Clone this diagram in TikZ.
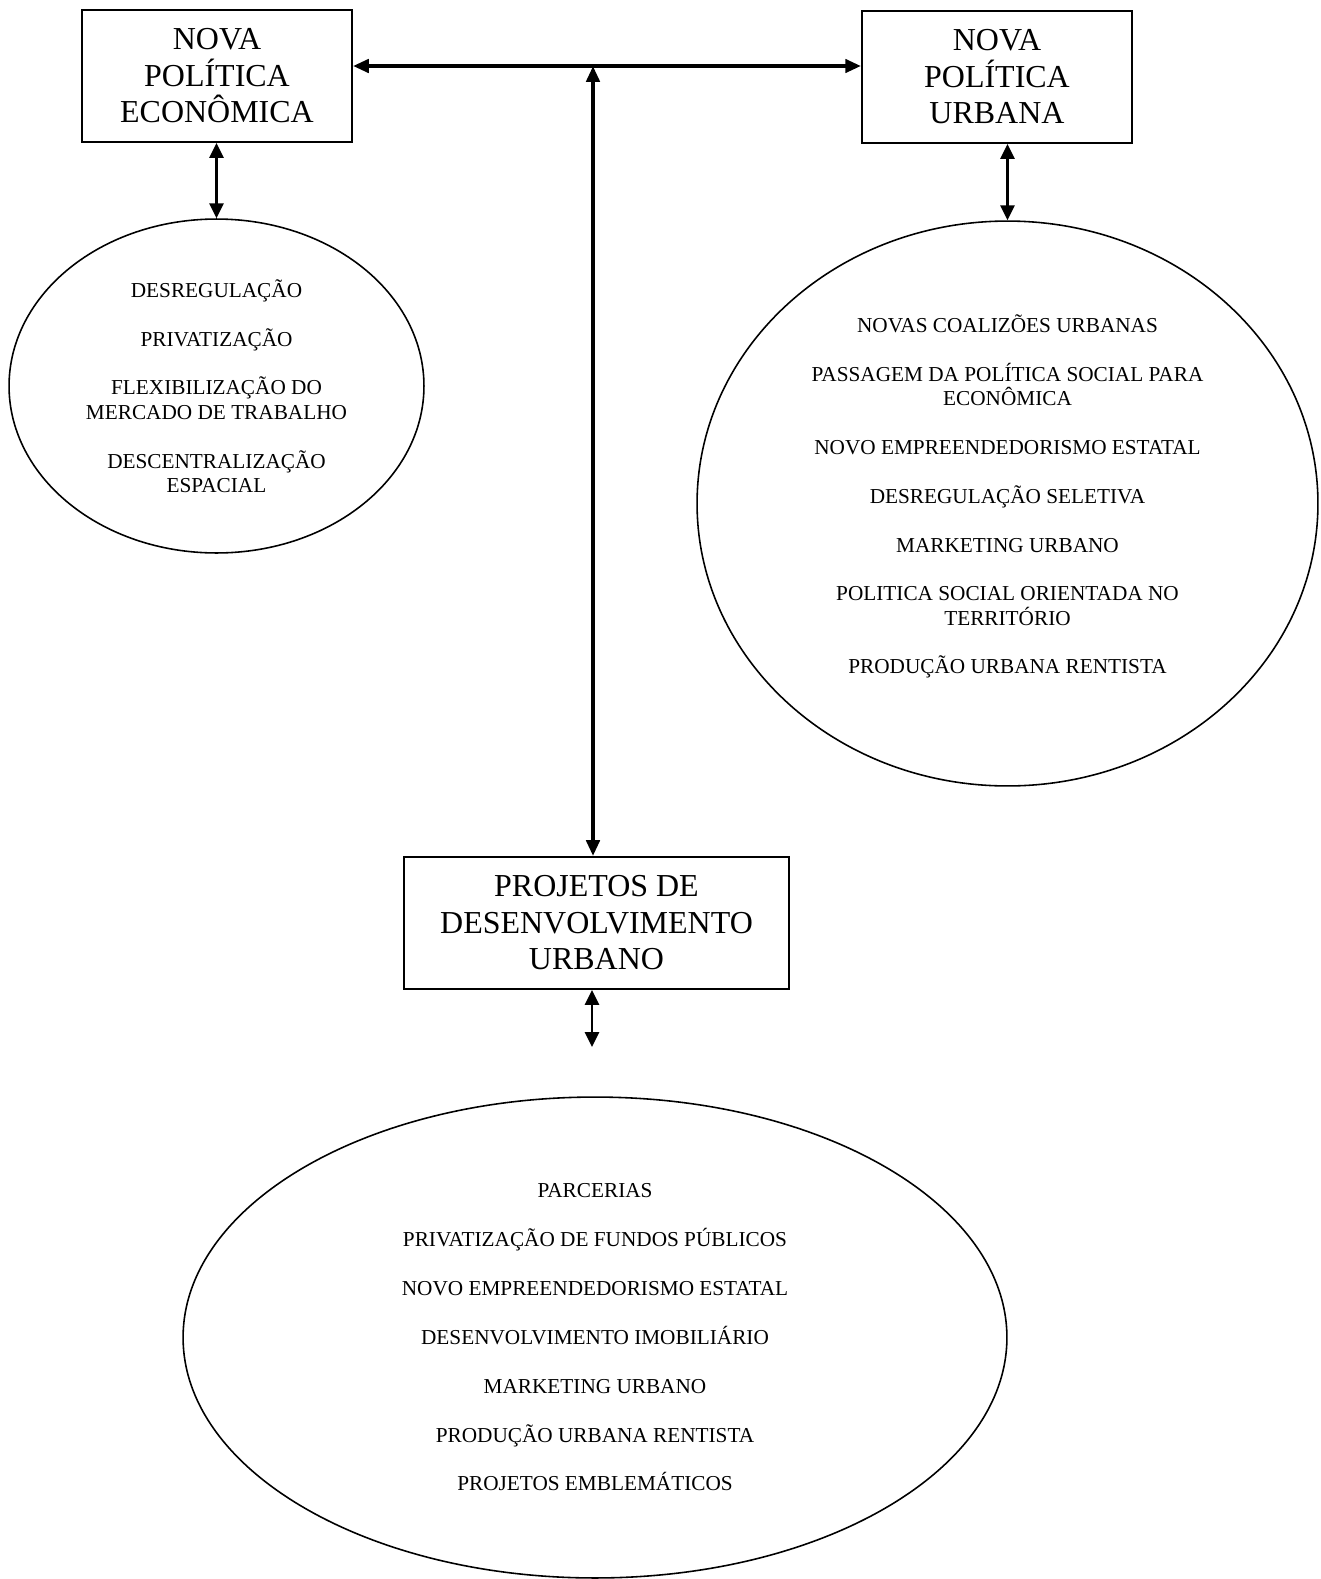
\documentclass[tikz,border=0pt]{standalone}
\usepackage{fontspec}
\setmainfont{Liberation Serif}
\usepackage{tikz}
\usetikzlibrary{arrows.meta,shapes.geometric,positioning,calc}

\begin{document}
\begin{tikzpicture}[
    x=0.02cm, y=-0.02cm,
    pbox/.style={draw, line width=1.1pt, minimum width=5.4cm, minimum height=2.64cm, align=center, inner sep=0pt, font=\fontsize{18.2}{20.8}\selectfont},
    oval/.style={draw, ellipse, line width=0.9pt, align=center, inner sep=0pt, font=\fontsize{12.1}{13.8}\selectfont},
    arr/.style={{Triangle[length=9pt,width=7.5pt]}-{Triangle[length=9pt,width=7.5pt]}, line width=2.2pt},
    sarr/.style={{Triangle[length=8.5pt,width=8pt]}-{Triangle[length=8.5pt,width=8pt]}, line width=1.5pt}
]
\useasboundingbox (0,0) rectangle (1320,1579);

\node[pbox] (npe) at (217,76) {NOVA\\POLÍTICA\\ECONÔMICA};
\node[pbox] (npu) at (997,77) {NOVA\\POLÍTICA\\URBANA};
\node[pbox, minimum width=7.7cm] (pdu) at (596.5,923) {PROJETOS DE\\DESENVOLVIMENTO\\URBANO};

\node[oval, minimum width=8.3cm, minimum height=6.68cm] (econ) at (216.5,386)
    {DESREGULAÇÃO\\[14pt]PRIVATIZAÇÃO\\[14pt]FLEXIBILIZAÇÃO DO\\MERCADO DE TRABALHO\\[14pt]DESCENTRALIZAÇÃO\\ESPACIAL};
\node[oval, text depth=10.5pt, minimum width=12.42cm, minimum height=11.3cm] (urb) at (1007.5,503.5)
    {NOVAS COALIZÕES URBANAS\\[14pt]PASSAGEM DA POLÍTICA SOCIAL PARA\\ECONÔMICA\\[14pt]NOVO EMPREENDEDORISMO ESTATAL\\[14pt]DESREGULAÇÃO SELETIVA\\[14pt]MARKETING URBANO\\[14pt]POLITICA SOCIAL ORIENTADA NO\\TERRITÓRIO\\[14pt]PRODUÇÃO URBANA RENTISTA};
\node[oval, minimum width=16.48cm, minimum height=9.62cm] (proj) at (595,1337.5)
    {PARCERIAS\\[14pt]PRIVATIZAÇÃO DE FUNDOS PÚBLICOS\\[14pt]NOVO EMPREENDEDORISMO ESTATAL\\[14pt]DESENVOLVIMENTO IMOBILIÁRIO\\[14pt]MARKETING URBANO\\[14pt]PRODUÇÃO URBANA RENTISTA\\[14pt]PROJETOS EMBLEMÁTICOS};

\coordinate (hub) at (593,66);
\coordinate (tail) at (592,1047);

\draw[arr] (npe.east |- hub) -- (npu.west |- hub);
\draw[arr] (hub |- pdu.north) -- (hub);
\draw[sarr] (econ.north |- npe.south) -- (econ.north);
\draw[sarr] (urb.north |- npu.south) -- (urb.north);
\draw[sarr] (tail |- pdu.south) -- (tail);
\end{tikzpicture}
\end{document}
